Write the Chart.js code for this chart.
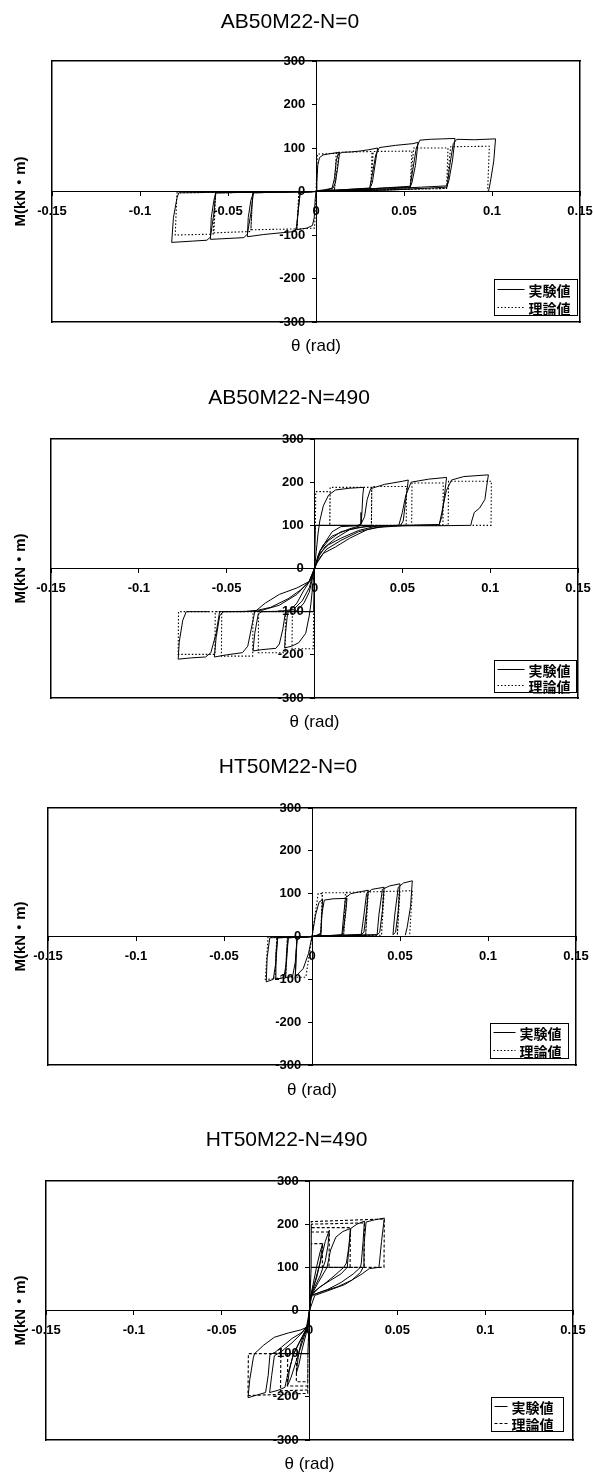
<!DOCTYPE html>
<html>
<head>
<meta charset="utf-8">
<script src="https://cdn.jsdelivr.net/npm/chart.js@4.4.1/dist/chart.umd.min.js"></script>
<style>
  body { margin: 0; background: #fff; }
  canvas { display: block; }
</style>
</head>
<body>
<canvas id="c1" width="593" height="370"></canvas>
<canvas id="c2" width="593" height="370"></canvas>
<canvas id="c3" width="593" height="365"></canvas>
<canvas id="c4" width="593" height="370"></canvas>
<script>
// axis ticks shared by the four panels
const xTicks = [-0.15, -0.1, -0.05, 0, 0.05, 0.1, 0.15];
const xTickLabels = ['-0.15', '-0.1', '-0.05', '0', '0.05', '0.1', '0.15'];
const yTicks = [-300, -200, -100, 0, 100, 200, 300];
const yTickLabels = ['-300', '-200', '-100', '0', '100', '200', '300'];
const seriesNames = ['実験値', '理論値'];
const panelTitles = ['AB50M22-N=0', 'AB50M22-N=490', 'HT50M22-N=0', 'HT50M22-N=490'];

// [theta (rad), M (kN·m)]
const ab0Exp = [
  [0, 0], [0.0005, 20], [0.001, 60], [0.002, 78], [0.004, 84], [0.008, 87], [0.0134, 90],
  [0.0125, 60], [0.011, 20], [0.0097, 8], [0.005, 4], [0.001, 2], [0, 0],
  [-0.0005, -20], [-0.001, -60], [-0.002, -78], [-0.005, -84], [-0.011, -88],
  [-0.0105, -60], [-0.0095, -20], [-0.009, -3], [-0.005, -1], [0, 0], [0.005, 3], [0.009, 6],
  [0.0105, 30], [0.0115, 70], [0.0125, 86], [0.015, 90], [0.02, 91], [0.025, 93], [0.03, 96], [0.035, 100],
  [0.0335, 60], [0.032, 20], [0.0305, 7], [0.02, 5], [0.01, 3], [0, 0], [-0.009, -2],
  [-0.01, -40], [-0.011, -80], [-0.012, -92], [-0.02, -95], [-0.03, -99], [-0.039, -104],
  [-0.0385, -60], [-0.037, -20], [-0.0355, -3], [-0.02, -1], [0, 0], [0.015, 4], [0.0305, 8],
  [0.032, 40], [0.034, 85], [0.036, 101], [0.045, 106], [0.055, 110], [0.058, 113],
  [0.0565, 60], [0.0545, 20], [0.0535, 10], [0.04, 8], [0.02, 4], [0, 0], [-0.0355, -2],
  [-0.037, -50], [-0.039, -98], [-0.041, -106], [-0.05, -108], [-0.06, -110],
  [-0.0595, -60], [-0.058, -20], [-0.057, -3], [-0.03, -1], [0, 0], [0.03, 6], [0.0535, 12],
  [0.055, 50], [0.057, 100], [0.059, 118], [0.065, 120], [0.072, 121], [0.079, 122],
  [0.0775, 70], [0.0755, 25], [0.0745, 13], [0.06, 10], [0.04, 6], [0.02, 3], [0, 0], [-0.057, -3],
  [-0.058, -50], [-0.06, -105], [-0.062, -112], [-0.07, -114], [-0.082, -117],
  [-0.081, -60], [-0.079, -15], [-0.078, -3], [-0.04, -1], [0, 0], [0.04, 3], [0.0745, 10],
  [0.076, 60], [0.078, 110], [0.08, 120], [0.09, 119], [0.102, 121],
  [0.101, 70], [0.099, 20], [0.098, 0]
];
const ab0Theo = [
  [0, 0], [0.0008, 86], [0.013, 88], [0.0105, 4], [0, 0],
  [-0.0008, -84], [-0.0108, -86], [-0.0098, -3], [0, 0],
  [0.0105, 4], [0.0115, 90], [0.0318, 92], [0.0312, 5], [0, 0],
  [-0.0098, -3], [-0.0108, -86], [-0.037, -88], [-0.036, -3], [0, 0],
  [0.0312, 5], [0.0325, 92], [0.0545, 93], [0.0535, 6], [0, 0],
  [-0.036, -3], [-0.037, -92], [-0.058, -95], [-0.057, -3], [0, 0],
  [0.0535, 6], [0.0555, 100], [0.075, 100], [0.0742, 7], [0, 0],
  [-0.057, -3], [-0.0585, -98], [-0.08, -100], [-0.079, -3], [0, 0],
  [0.0742, 7], [0.0765, 103], [0.0985, 104], [0.0975, 0]
];

const ab490Exp = [
  [0, 0], [0.001, 40], [0.002, 80], [0.003, 110], [0.005, 145], [0.008, 170], [0.012, 182], [0.02, 186], [0.028, 188],
  [0.0275, 170], [0.027, 130], [0.0265, 103], [0.024, 99], [0.015, 97], [0.01, 85], [0.006, 60], [0.003, 40], [0.001, 10], [0, 0],
  [-0.001, -40], [-0.002, -80], [-0.003, -110], [-0.005, -150], [-0.009, -172], [-0.013, -180], [-0.017, -184],
  [-0.0165, -150], [-0.0155, -110], [-0.015, -100], [-0.01, -98], [-0.006, -80], [-0.003, -55], [-0.001, -20], [0, 0],
  [0.002, 30], [0.005, 55], [0.01, 75], [0.02, 92], [0.026, 99], [0.0285, 120], [0.03, 160], [0.032, 185], [0.04, 195], [0.05, 202], [0.0534, 205],
  [0.052, 160], [0.0505, 110], [0.049, 100], [0.03, 98], [0.02, 90], [0.012, 70], [0.006, 50], [0.002, 25], [0, 0],
  [-0.002, -25], [-0.006, -50], [-0.01, -80], [-0.014, -98], [-0.0165, -100], [-0.018, -140], [-0.02, -175], [-0.022, -185], [-0.03, -188], [-0.035, -191],
  [-0.034, -150], [-0.032, -105], [-0.03, -100], [-0.02, -99], [-0.012, -95], [-0.007, -75], [-0.003, -45], [0, 0],
  [0.003, 40], [0.008, 65], [0.015, 85], [0.025, 95], [0.035, 99], [0.048, 100], [0.05, 130], [0.052, 170], [0.055, 200], [0.065, 207], [0.0752, 211],
  [0.074, 170], [0.0725, 120], [0.071, 102], [0.05, 99], [0.035, 95], [0.025, 85], [0.015, 65], [0.007, 45], [0.002, 20], [0, 0],
  [-0.003, -30], [-0.01, -60], [-0.02, -85], [-0.03, -97], [-0.034, -100], [-0.036, -140], [-0.038, -180], [-0.041, -195], [-0.05, -200], [-0.057, -205],
  [-0.056, -160], [-0.054, -110], [-0.052, -100], [-0.035, -99], [-0.025, -90], [-0.015, -70], [-0.008, -50], [-0.003, -30], [0, 0],
  [0.003, 35], [0.008, 55], [0.015, 70], [0.025, 88], [0.035, 98], [0.05, 100], [0.071, 101], [0.0725, 130], [0.075, 180], [0.078, 205], [0.085, 213], [0.099, 217],
  [0.098, 190], [0.097, 160], [0.094, 140], [0.091, 130], [0.0895, 110], [0.089, 100], [0.07, 99], [0.05, 99], [0.04, 98], [0.03, 90], [0.02, 70], [0.012, 50], [0.005, 35], [0.001, 10], [0, 0],
  [-0.003, -30], [-0.01, -45], [-0.02, -60], [-0.028, -80], [-0.033, -97], [-0.04, -100], [-0.054, -100], [-0.056, -150], [-0.059, -195], [-0.062, -205], [-0.07, -207], [-0.0776, -210],
  [-0.077, -170], [-0.075, -120], [-0.073, -100], [-0.06, -100]
];
const ab490Theo = [
  [0, 0], [0.0005, 100], [0.0007, 178], [0.0089, 178], [0.0087, 100], [0.0005, 100], [0, 0],
  [-0.0005, -100], [-0.0007, -186], [-0.0128, -186], [-0.0126, -100], [-0.0005, -100], [0, 0],
  [0.0005, 100], [0.0087, 100], [0.0089, 188], [0.0326, 188], [0.0324, 100], [0.0005, 100], [0, 0],
  [-0.0005, -100], [-0.0165, -100], [-0.0167, -195], [-0.032, -195], [-0.0318, -100], [-0.0005, -100], [0, 0],
  [0.0005, 100], [0.0324, 100], [0.0326, 190], [0.0524, 190], [0.0522, 100], [0.0005, 100], [0, 0],
  [-0.0005, -100], [-0.035, -100], [-0.0352, -203], [-0.053, -203], [-0.0528, -100], [-0.0005, -100], [0, 0],
  [0.0005, 100], [0.0553, 100], [0.0555, 198], [0.0733, 198], [0.0731, 100], [0.0005, 100], [0, 0],
  [-0.0005, -100], [-0.0565, -100], [-0.0567, -199], [-0.0776, -199], [-0.0774, -100], [-0.0005, -100], [0, 0],
  [0.0005, 100], [0.0761, 100], [0.0763, 202], [0.1007, 202], [0.1005, 100], [0.09, 100]
];

const ht0Exp = [
  [0, 0], [0.002, 50], [0.004, 80], [0.006, 86],
  [0.0055, 40], [0.005, 5], [0.002, 2], [0, 0],
  [-0.002, -40], [-0.005, -75], [-0.0095, -94],
  [-0.009, -40], [-0.0085, -3], [-0.004, -1], [0, 0],
  [0.003, 3], [0.005, 8], [0.0055, 50], [0.007, 85], [0.012, 88], [0.0199, 89],
  [0.019, 50], [0.0175, 10], [0.017, 3], [0.008, 2], [0, 0],
  [-0.0085, -3], [-0.0095, -60], [-0.011, -93], [-0.015, -96],
  [-0.0145, -40], [-0.0135, -3], [0, 0],
  [0.017, 4], [0.018, 50], [0.019, 90], [0.022, 100], [0.028, 105], [0.032, 108],
  [0.031, 60], [0.0295, 10], [0.028, 4], [0, 0],
  [-0.0135, -3], [-0.0145, -60], [-0.016, -96], [-0.021, -100],
  [-0.0205, -40], [-0.0195, -3], [0, 0],
  [0.028, 5], [0.0295, 50], [0.031, 100], [0.034, 110], [0.041, 115],
  [0.04, 60], [0.0385, 10], [0.037, 4], [0, 0],
  [-0.0195, -3], [-0.0205, -60], [-0.022, -100], [-0.026, -106],
  [-0.0255, -50], [-0.024, -3], [0, 0],
  [0.037, 4], [0.038, 50], [0.04, 110], [0.044, 118], [0.05, 123],
  [0.049, 60], [0.0475, 10], [0.046, 4],
  [0.047, 50], [0.049, 115], [0.052, 125], [0.057, 130],
  [0.056, 70], [0.054, 20], [0.053, 3]
];
const ht0Theo = [
  [0, 0], [0.0035, 100], [0.006, 100], [0.005, 3], [0, 0],
  [-0.0035, -95], [-0.0095, -95], [-0.0085, -2], [0, 0],
  [0.005, 3], [0.0058, 102], [0.0199, 102], [0.018, 3], [0, 0],
  [-0.0085, -2], [-0.0095, -96], [-0.015, -96], [-0.014, -2], [0, 0],
  [0.018, 3], [0.019, 103], [0.032, 104], [0.0305, 3], [0, 0],
  [-0.014, -2], [-0.015, -97], [-0.021, -98], [-0.02, -2], [0, 0],
  [0.0305, 3], [0.0315, 104], [0.041, 105], [0.0395, 3], [0, 0],
  [-0.02, -2], [-0.021, -99], [-0.0265, -100], [-0.025, -2], [0, 0],
  [0.0395, 3], [0.0405, 105], [0.05, 106], [0.0485, 3],
  [0.0495, 106], [0.057, 107], [0.0555, 3]
];

const ht490Exp = [
  [0, 0], [0.0005, 30], [0.002, 60], [0.004, 100], [0.006, 135], [0.0075, 155],
  [0.006, 110], [0.004, 75], [0.0015, 45], [0.0003, 20], [0, 0],
  [-0.0005, -25], [-0.002, -55], [-0.0045, -95], [-0.006, -125], [-0.0075, -145],
  [-0.0062, -100], [-0.0045, -70], [-0.002, -45], [-0.0003, -20], [0, 0],
  [0.0005, 30], [0.003, 65], [0.006, 110], [0.009, 160], [0.0113, 186],
  [0.0105, 150], [0.009, 115], [0.006, 80], [0.003, 55], [0.0005, 30], [0, 0],
  [-0.0005, -30], [-0.003, -60], [-0.007, -110], [-0.0105, -155], [-0.0126, -175],
  [-0.0115, -140], [-0.0095, -105], [-0.006, -75], [-0.002, -45], [0, 0],
  [0.001, 35], [0.005, 65], [0.01, 100], [0.012, 140], [0.015, 170], [0.019, 183], [0.0233, 190],
  [0.0225, 150], [0.021, 110], [0.0195, 100], [0.014, 80], [0.008, 60], [0.003, 45], [0.0005, 30], [0, 0],
  [-0.0005, -30], [-0.004, -60], [-0.009, -100], [-0.0125, -150], [-0.014, -178], [-0.018, -185], [-0.0227, -190],
  [-0.0215, -150], [-0.02, -105], [-0.016, -95], [-0.01, -75], [-0.005, -55], [-0.001, -35], [0, 0],
  [0.001, 35], [0.006, 55], [0.012, 70], [0.018, 85], [0.0215, 100], [0.0225, 150], [0.0235, 190], [0.027, 200], [0.0313, 207],
  [0.0305, 160], [0.0295, 110], [0.029, 100], [0.025, 85], [0.018, 65], [0.01, 48], [0.003, 38], [0.0005, 30], [0, 0],
  [-0.0005, -30], [-0.004, -50], [-0.01, -65], [-0.016, -85], [-0.02, -98], [-0.0225, -102], [-0.0235, -150], [-0.025, -190], [-0.03, -196], [-0.035, -202],
  [-0.034, -160], [-0.032, -110], [-0.0313, -100], [-0.026, -80], [-0.02, -62], [-0.012, -52], [-0.005, -45], [-0.001, -38], [0, 0],
  [0.001, 35], [0.008, 45], [0.016, 55], [0.024, 70], [0.029, 88], [0.0305, 100], [0.031, 150], [0.0322, 205], [0.037, 210], [0.0426, 214],
  [0.041, 160], [0.0398, 110], [0.0395, 100], [0.034, 97], [0.03, 85], [0.02, 60], [0.01, 45], [0.003, 35], [0, 0]
];
const ht490Theo = [
  [0, 0], [0.0009, 100], [0.001, 155], [0.0075, 155], [0.0073, 100], [0.0009, 100], [0, 0],
  [-0.0009, -100], [-0.001, -165], [-0.0075, -165], [-0.0073, -100], [-0.0009, -100], [0, 0],
  [0.0009, 100], [0.001, 182], [0.0113, 182], [0.0111, 100], [0.0009, 100], [0, 0],
  [-0.0009, -100], [-0.001, -175], [-0.0126, -175], [-0.0124, -100], [-0.0009, -100], [0, 0],
  [0.0009, 100], [0.001, 192], [0.0233, 192], [0.0231, 100], [0.0009, 100], [0, 0],
  [-0.0009, -100], [-0.001, -184], [-0.0165, -186], [-0.0163, -100], [-0.0009, -100], [0, 0],
  [0.0009, 100], [0.001, 200], [0.0313, 203], [0.0311, 100], [0.0009, 100], [0, 0],
  [-0.0009, -100], [-0.001, -192], [-0.035, -197], [-0.0348, -100], [-0.0009, -100], [0, 0],
  [0.0009, 100], [0.001, 206], [0.0426, 212], [0.0424, 100], [0.0009, 100]
];

const panelData = [[ab0Exp, ab0Theo], [ab490Exp, ab490Theo], [ht0Exp, ht0Theo], [ht490Exp, ht490Theo]];

// where each panel's plot box sits inside its canvas
const frames = [
  { h: 370, left: 52, right: 580, top: 61, bottom: 322, titleY: 22, xTitleY: 346, leg: { w: 83, h: 36, r: 3, b: 7, sample: 27 } },
  { h: 370, left: 51, right: 578, top: 69, bottom: 328, titleY: 28, xTitleY: 352, leg: { w: 82, h: 32, r: 2, b: 6, sample: 27 } },
  { h: 365, left: 48, right: 576, top: 68, bottom: 325, titleY: 27, xTitleY: 350, leg: { w: 78, h: 35, r: 8, b: 7, sample: 22 } },
  { h: 370, left: 46, right: 573, top: 76, bottom: 335, titleY: 35, xTitleY: 360, leg: { w: 72, h: 34, r: 10, b: 9, sample: 13 } }
];

Chart.defaults.font.family = '"Liberation Sans", Arial, "Noto Sans CJK JP", sans-serif';
Chart.defaults.color = '#000';

// small legend box drawn inside the plot, bottom right
const boxLegend = {
  id: 'boxLegend',
  afterDatasetsDraw(chart, args, opts) {
    const { ctx, chartArea } = chart;
    const x = Math.round(chartArea.right - opts.r - opts.w) + 0.5;
    const y = Math.round(chartArea.bottom - opts.b - opts.h) + 0.5;
    ctx.save();
    ctx.fillStyle = '#fff';
    ctx.fillRect(x, y, opts.w, opts.h);
    ctx.strokeStyle = '#000';
    ctx.lineWidth = 1;
    ctx.strokeRect(x, y, opts.w, opts.h);
    ctx.font = 'bold 14px "Noto Sans CJK JP", sans-serif';
    ctx.textBaseline = 'middle';
    chart.data.datasets.forEach((ds, i) => {
      const ly = Math.round(y + opts.h * (i * 2 + 1) / 4) + 0.5;
      ctx.setLineDash(ds.borderDash || []);
      ctx.beginPath();
      ctx.moveTo(x + 3, ly);
      ctx.lineTo(x + 3 + opts.sample, ly);
      ctx.stroke();
      ctx.setLineDash([]);
      ctx.fillStyle = '#000';
      ctx.fillText(ds.label, x + opts.sample + 7, ly + 1);
    });
    ctx.restore();
  }
};

// outer frame edges: axes with only their border line
function frameAxis(pos, min, max, extra) {
  return Object.assign({
    type: 'linear', position: pos, min: min, max: max,
    ticks: { display: false },
    grid: { display: false, drawTicks: false, tickLength: 0 },
    border: { display: true, color: '#000', width: 1.5 }
  }, extra || {});
}

function makePanel(i) {
  const f = frames[i];
  const [exp, theo] = panelData[i];
  const titlePadTop = f.titleY - 12.6;
  const xtPadBottom = Math.max(0, f.h - f.xTitleY - 10.2);
  const xtPadTop = (f.h - f.bottom) - 20.4 - xtPadBottom;

  new Chart(document.getElementById('c' + (i + 1)), {
    type: 'scatter',
    data: {
      datasets: [
        {
          label: seriesNames[0],
          data: exp.map(p => ({ x: p[0], y: p[1] })),
          showLine: true, borderColor: '#000', borderWidth: 1,
          pointRadius: 0, tension: 0, fill: false
        },
        {
          label: seriesNames[1],
          data: theo.map(p => ({ x: p[0], y: p[1] })),
          showLine: true, borderColor: '#000', borderWidth: 1.1,
          borderDash: i === 3 ? [3, 2] : [1.5, 2],
          pointRadius: 0, tension: 0, fill: false
        }
      ]
    },
    options: {
      responsive: false,
      animation: false,
      devicePixelRatio: 1,
      layout: { padding: { left: 0, right: 593 - f.right, top: 0, bottom: 0 } },
      plugins: {
        legend: { display: false },
        tooltip: { enabled: false },
        title: {
          display: true, text: panelTitles[i], color: '#000',
          font: { size: 21, weight: 'normal' },
          padding: { top: titlePadTop, bottom: f.top - 25.2 - titlePadTop }
        },
        boxLegend: f.leg
      },
      scales: {
        x: {
          type: 'linear', min: -0.15, max: 0.15, position: { y: 0 },
          afterBuildTicks: s => { s.ticks = xTicks.map(v => ({ value: v })); },
          afterFit: s => { s.paddingLeft = 0; s.paddingRight = 0; },
          ticks: {
            callback: (v, k) => xTickLabels[k],
            font: { size: 13, weight: 'bold' }, color: '#000',
            padding: 8, maxRotation: 0, autoSkip: false
          },
          grid: { display: true, drawOnChartArea: false, tickLength: 4, color: '#000' },
          border: { color: '#000', width: 1 }
        },
        y: {
          type: 'linear', min: -300, max: 300, position: { x: 0 },
          afterBuildTicks: s => { s.ticks = yTicks.map(v => ({ value: v })); },
          afterFit: s => { s.paddingTop = 0; s.paddingBottom = 0; },
          ticks: {
            callback: (v, k) => yTickLabels[k] + '   ',
            font: { size: 13, weight: 'bold' }, color: '#000', autoSkip: false
          },
          grid: { display: true, drawOnChartArea: false, tickLength: 4, color: '#000' },
          border: { color: '#000', width: 1 }
        },
        xt: frameAxis('bottom', -0.15, 0.15, {
          title: {
            display: true, text: 'θ (rad)', color: '#000',
            font: { size: 17 },
            padding: { top: xtPadTop, bottom: xtPadBottom }
          }
        }),
        yt: frameAxis('left', -300, 300, {
          title: {
            display: true, text: 'M(kN・m)', color: '#000',
            font: { size: 15, weight: 'bold' },
            padding: { top: 12, bottom: f.left - 30 }
          }
        }),
        xf: frameAxis('top', -0.15, 0.15),
        yf: frameAxis('right', -300, 300)
      }
    },
    plugins: [boxLegend]
  });
}

for (let i = 0; i < 4; i++) makePanel(i);
</script>
</body>
</html>
